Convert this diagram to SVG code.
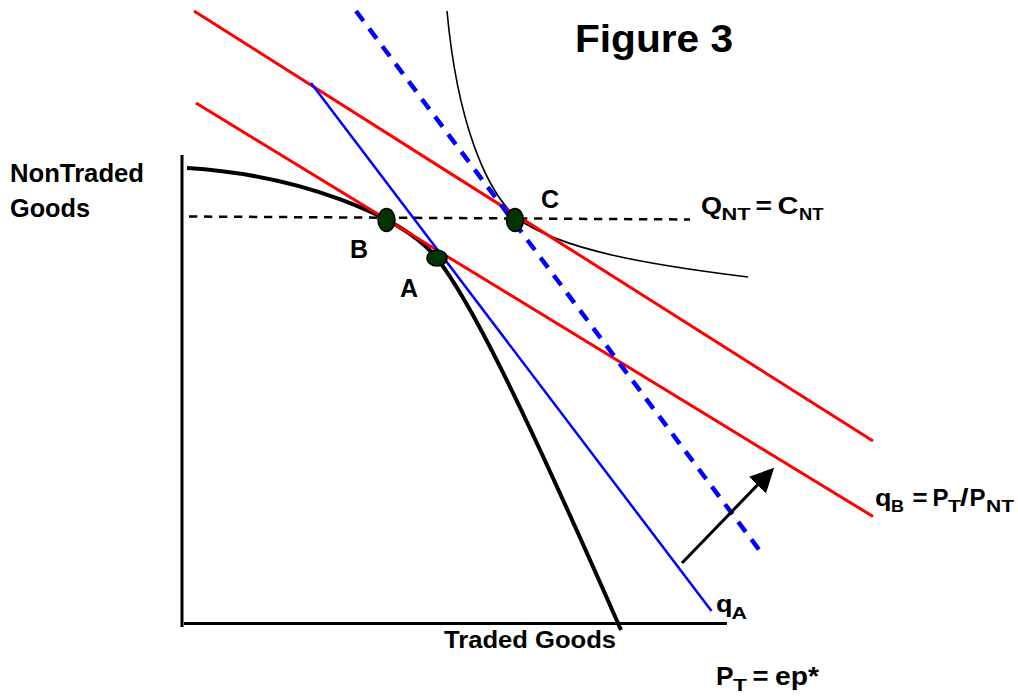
<svg xmlns="http://www.w3.org/2000/svg" width="1018" height="698" viewBox="0 0 1018 698">
<style>
text{font-family:"Liberation Sans",Arial,sans-serif;font-weight:bold;fill:#000}
.m{font-size:23px}
.s{font-size:17px}
.red{stroke:#ff0000;stroke-width:3;fill:none}
.blue{stroke:#0000ff;stroke-width:2.5;fill:none}
.bdash{stroke:#0000ff;stroke-width:4.5;fill:none;stroke-dasharray:12.5 9.5}
.axis{stroke:#000;stroke-width:3;fill:none}
.dot{fill:#003300;stroke:#000;stroke-width:1.5}
</style>
<defs>
<marker id="ah" markerWidth="8" markerHeight="8" refX="7" refY="4" orient="auto" markerUnits="strokeWidth">
<path d="M0,0 L8,4 L0,8 z" fill="#000"/>
</marker>
</defs>
<rect width="1018" height="698" fill="#fff"/>
<g id="connectors">
<line id="axis-y" class="axis" x1="182" y1="155" x2="182" y2="627"/>
<line id="axis-x" class="axis" x1="184" y1="623.5" x2="727" y2="623.5"/>
<line id="qnt-line" x1="189" y1="216.5" x2="690" y2="219.5" stroke="#000" stroke-width="2.5" stroke-dasharray="8.3 6.7"/>
<path id="ppf" d="M187,168 C300,175 400,215 436,257 C470,300 520,400 621,630" stroke="#000" stroke-width="4" fill="none"/>
<path id="indiff" d="M447,11 C457,120 485,190 517,218 C560,250 650,265 748,277" stroke="#000" stroke-width="1.6" fill="none"/>
<line id="red-upper" class="red" x1="194" y1="11" x2="873" y2="441"/>
<line id="red-lower" class="red" x1="196" y1="103" x2="873" y2="516.5"/>
<line id="blue-qa" class="blue" x1="311" y1="83" x2="711.5" y2="611"/>
<line id="blue-dashed" class="bdash" x1="356" y1="11" x2="763" y2="555"/>
<line id="shift-arrow" x1="682" y1="563" x2="772" y2="470" stroke="#000" stroke-width="3" marker-end="url(#ah)"/>
</g>
<g id="node-B"><ellipse class="dot" cx="386.5" cy="220" rx="8.5" ry="11.5"/><text x="350" y="258" font-size="25">B</text></g>
<g id="node-A"><ellipse class="dot" cx="437" cy="258" rx="10" ry="8"/><text x="400" y="297" font-size="25">A</text></g>
<g id="node-C"><ellipse class="dot" cx="515" cy="220" rx="8.5" ry="11.5"/><text x="541" y="208" font-size="25">C</text></g>
<g id="labels">
<text x="575" y="52" font-size="38" textLength="158" lengthAdjust="spacingAndGlyphs">Figure 3</text>
<text x="10" y="182" font-size="25" textLength="134" lengthAdjust="spacingAndGlyphs">NonTraded</text>
<text x="10" y="217" font-size="25" textLength="80" lengthAdjust="spacingAndGlyphs">Goods</text>
<text x="444" y="648" font-size="24" textLength="172" lengthAdjust="spacingAndGlyphs">Traded Goods</text>
<g id="label-qnt">
<text class="m" x="701" y="213.5" textLength="21" lengthAdjust="spacingAndGlyphs">Q</text>
<text class="s" x="721.5" y="219.5" textLength="29" lengthAdjust="spacingAndGlyphs">NT</text>
<text class="m" x="755.5" y="213.5" textLength="16.5" lengthAdjust="spacingAndGlyphs">=</text>
<text class="m" x="777.5" y="213.5" textLength="21" lengthAdjust="spacingAndGlyphs">C</text>
<text class="s" x="799" y="219.5" textLength="24.5" lengthAdjust="spacingAndGlyphs">NT</text>
</g>
<g id="label-qb">
<text class="m" x="875" y="505.5" textLength="16.5" lengthAdjust="spacingAndGlyphs">q</text>
<text class="s" x="891" y="511.5" textLength="13" lengthAdjust="spacingAndGlyphs">B</text>
<text class="m" x="912.5" y="505.5" textLength="15" lengthAdjust="spacingAndGlyphs">=</text>
<text class="m" x="932.5" y="505.5" textLength="16" lengthAdjust="spacingAndGlyphs">P</text>
<text class="s" x="948" y="511.5" textLength="13" lengthAdjust="spacingAndGlyphs">T</text>
<text class="m" x="960" y="505.5" textLength="8.5" lengthAdjust="spacingAndGlyphs">/</text>
<text class="m" x="969.5" y="505.5" textLength="16" lengthAdjust="spacingAndGlyphs">P</text>
<text class="s" x="986" y="511.5" textLength="28" lengthAdjust="spacingAndGlyphs">NT</text>
</g>
<g id="label-qa">
<text class="m" x="716" y="612" textLength="16.5" lengthAdjust="spacingAndGlyphs">q</text>
<text class="s" x="731.5" y="618.5" textLength="15.5" lengthAdjust="spacingAndGlyphs">A</text>
</g>
<g id="label-pt">
<text x="716" y="684.5" font-size="25" textLength="17.5" lengthAdjust="spacingAndGlyphs">P</text>
<text class="s" x="733" y="691" textLength="14" lengthAdjust="spacingAndGlyphs">T</text>
<text x="752.5" y="684.5" font-size="25" textLength="16" lengthAdjust="spacingAndGlyphs">=</text>
<text x="775" y="684.5" font-size="25" textLength="44" lengthAdjust="spacingAndGlyphs">ep*</text>
</g>
</g>
</svg>
